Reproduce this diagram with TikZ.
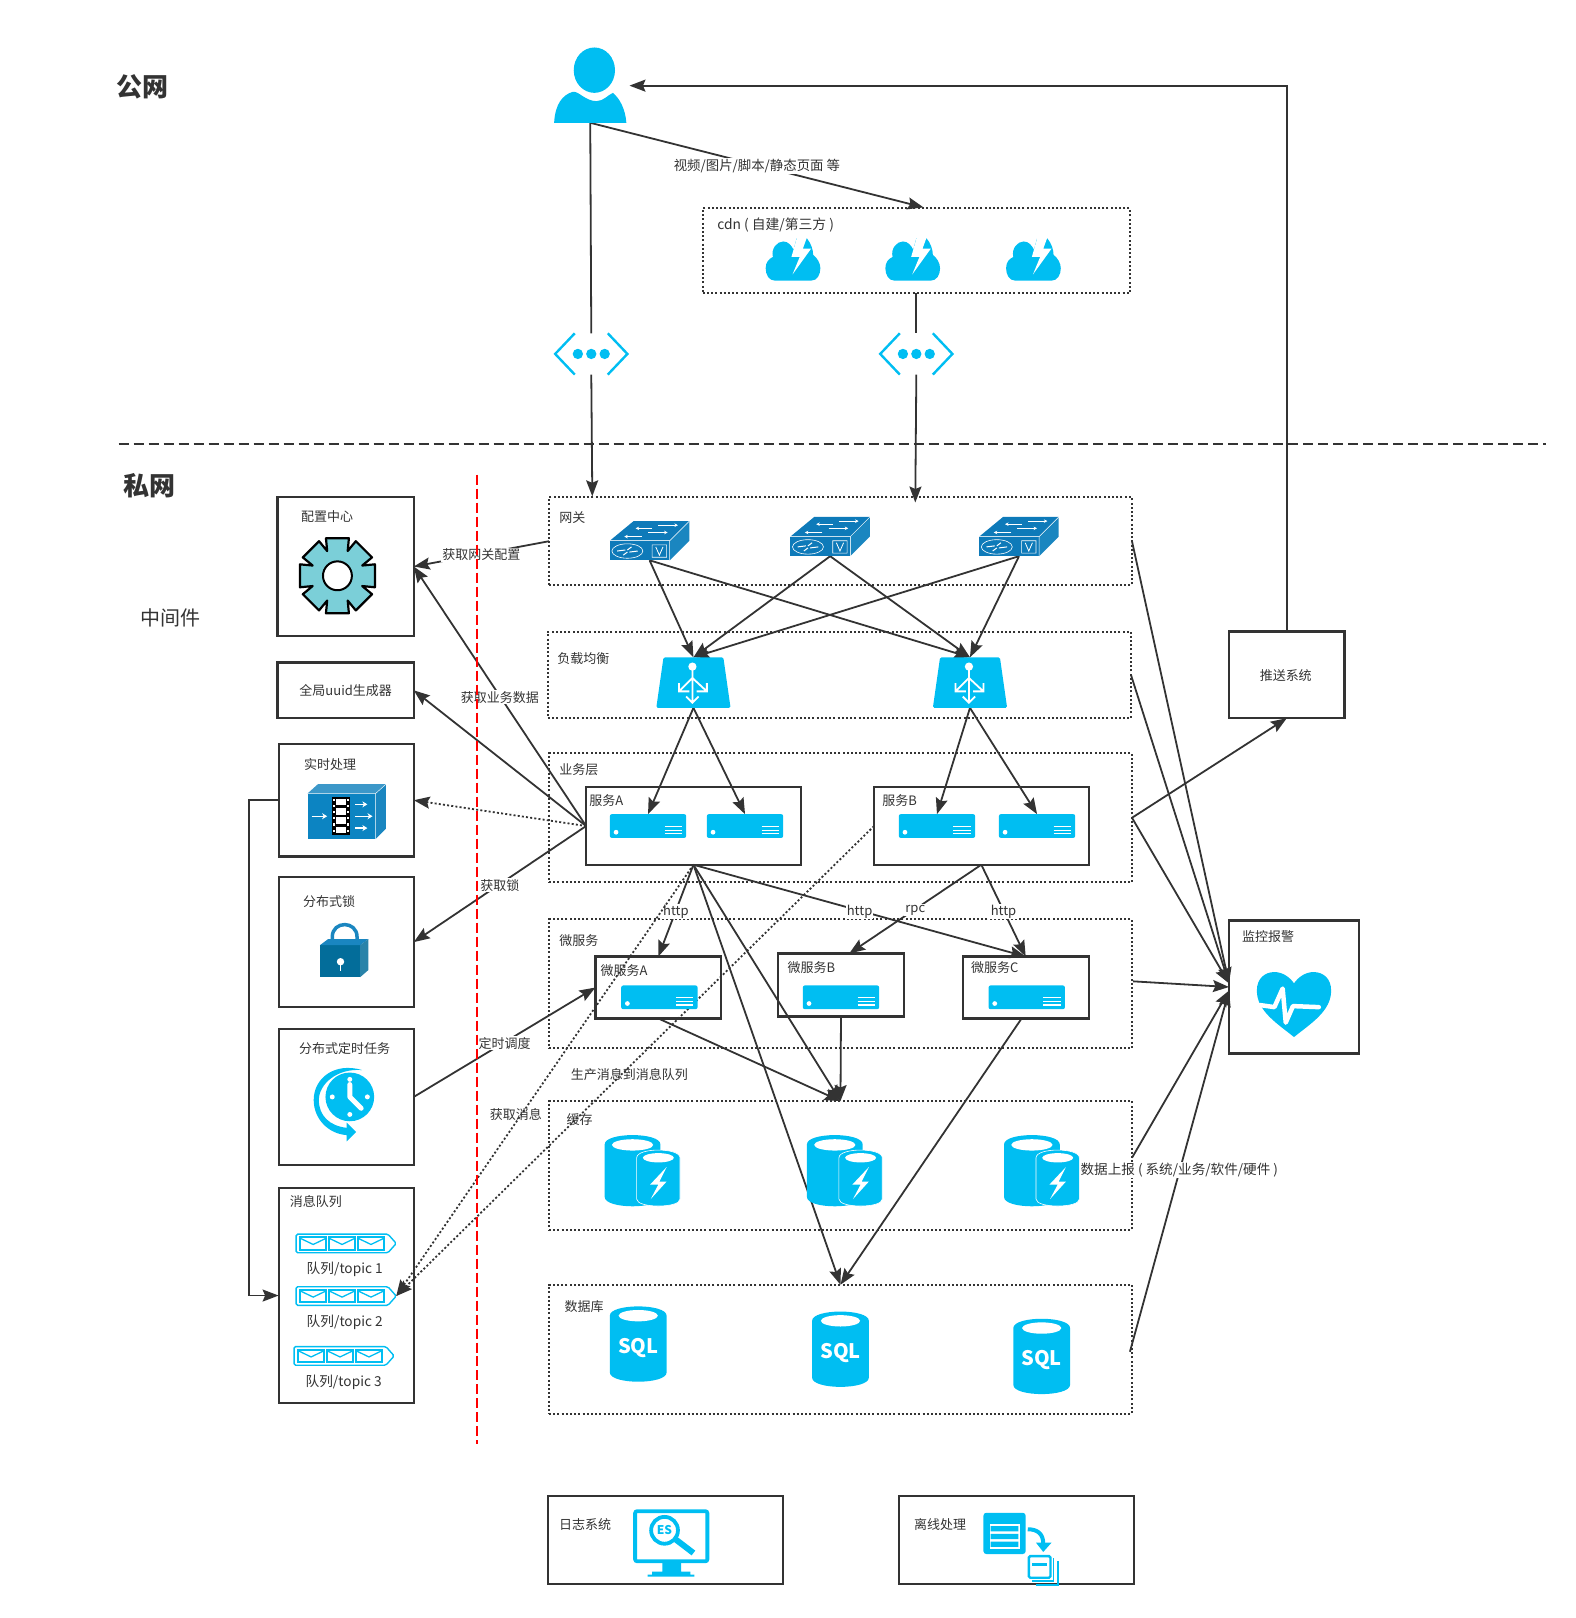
\documentclass[tikz,border=0pt]{standalone}
\usepackage{fontspec}
\setmainfont{Noto Sans CJK SC}
\usetikzlibrary{arrows.meta,fit}
\definecolor{ink}{HTML}{333333}
\definecolor{cy}{HTML}{00BEF2}
\definecolor{swb}{HTML}{0E7AB9}
\definecolor{swl}{HTML}{1A86C0}
\definecolor{lockb}{HTML}{036D9A}
\definecolor{gearc}{HTML}{7BCFD8}
\newcommand{\fs}[1]{\fontsize{#1}{#1}\selectfont}
\newcommand{\rbox}[6]{\node[#1,fit={(#3,#4)(#5,#6)}] (#2) {};}
\tikzset{
  x=1.0321pt,y=-1.0321pt,
  hook/.style={inner sep=0pt,outer sep=0pt},
  group/.style={hook,draw=ink,line width=2pt,dash pattern=on 2pt off 2.2pt},
  solidbox/.style={hook,draw=ink,line width=2.2pt},
  conn/.style={draw=ink,line width=1.8pt,-{Stealth[length=16pt,width=12pt,inset=2.5pt]}},
  plainconn/.style={draw=ink,line width=1.8pt},
  dotconn/.style={draw=ink,line width=1.8pt,dash pattern=on 2pt off 2.2pt,-{Stealth[length=16pt,width=12pt,inset=2.5pt]}},
  lab/.style={text=ink,font=\fs{13},inner sep=1pt,yshift=-1pt},
  labw/.style={lab,fill=white},
  user/.pic={
    \fill[cy] (39,22) ellipse [x radius=20,y radius=22];
    \fill[cy] (0,73) .. controls (1,55) and (8,46) .. (18,43) .. controls (24,42) and (30,52) .. (41,52) .. controls (48,52) and (52,46) .. (57,44) .. controls (64,50) and (69,60) .. (70,73) -- cycle;
  },
  gwicon/.pic={
    \draw[cy,line width=2.4pt] (20,0) -- (1,20) -- (20,40) (52,0) -- (71,20) -- (52,40);
    \foreach \d in {23,36,49}{\fill[cy] (\d,20) circle [radius=5];}
  },
  cdnicon/.pic={
    \fill[cy] (9,43) .. controls (3,43) and (0,37) .. (0,31) .. controls (0,25) and (3,22) .. (7,20) .. controls (5,12) and (11,5) .. (17,5) .. controls (22,5) and (25,9) .. (27,13) -- (30,2) -- (40,2) .. controls (44,7) and (46,13) .. (46,18) .. controls (50,21) and (53,26) .. (53,31) .. controls (53,37) and (50,43) .. (44,43) -- cycle;
    \fill[white] (31,-1) -- (25,20) -- (33,20) -- (26,37) -- (44,12) -- (36,12) -- (40,1) -- (32,-2) -- cycle;
  },
  swicon/.pic={
    \fill[swb] (0,19) rectangle (58,38);
    \fill[swb] (0,19) -- (23,0) -- (77,0) -- (58,19) -- cycle;
    \fill[swl] (58,19) -- (77,0) -- (77,19) -- (58,38) -- cycle;
    \draw[white,line width=.5pt] (0,19) -- (58,19) -- (77,0) (58,19) -- (58,38);
    \draw[white,line width=1.1pt,-{Stealth[length=3.5pt,width=3.5pt]}] (41,7) -- (25,7);
    \draw[white,line width=1.1pt,-{Stealth[length=3.5pt,width=3.5pt]}] (47,4) -- (66,4);
    \draw[white,line width=1.1pt,-{Stealth[length=3.5pt,width=3.5pt]}] (37,11) -- (56,11);
    \draw[white,line width=1.1pt,-{Stealth[length=3.5pt,width=3.5pt]}] (31,15) -- (14,15);
    \draw[white,line width=.6pt] (17,29) ellipse [x radius=15,y radius=7] (41,23) rectangle (55,35);
    \draw[white,line width=1pt] (7,29) -- (15,28) (19,30) -- (27,29) (13,33) -- (17,30) (17,28) -- (21,25);
    \draw[white,line width=.8pt] (44.5,25) -- (48,33) -- (51.5,25);
  },
  lbicon/.pic={
    \fill[cy,rounded corners=1.5pt] (7,0) -- (65,0) -- (72,49) -- (0,49) -- cycle;
    \fill[white] (35,9) circle [radius=4];
    \draw[white,line width=1.8pt] (35,9) -- (35,44) (35,20) -- (22,33) (35,20) -- (49,33) (22,25) -- (22,33) -- (32,33) (49,25) -- (49,33) -- (39,33) (29,38) -- (35,44) -- (41,38);
  },
  srv/.pic={
    \fill[cy,rounded corners=2pt] (0,0) rectangle (74,23);
    \fill[white] (6,17.5) circle [radius=2.3];
    \draw[white,line width=1.2pt] (53,12) -- (70,12) (53,15.5) -- (70,15.5) (53,19) -- (70,19);
  },
  cacheicon/.pic={
    \fill[cy] (0,9) .. controls (0,-3) and (54,-3) .. (54,9) -- (54,60) .. controls (54,72) and (0,72) .. (0,60) -- cycle;
    \fill[white] (27,9.5) ellipse [x radius=20,y radius=5.5];
    \draw[white,line width=.6pt,fill=cy] (31,22) .. controls (31,12) and (73,12) .. (73,22) -- (73,62) .. controls (73,71) and (31,71) .. (31,62) -- cycle;
    \fill[white] (52,22) ellipse [x radius=15,y radius=4.5];
    \fill[white] (60,31) -- (44,48) -- (52,48) -- (44.6,62) -- (60,45) -- (53,45) -- cycle;
  },
  sqlicon/.pic={
    \fill[cy] (0,9) .. controls (0,-3) and (55,-3) .. (55,9) -- (55,64) .. controls (55,76) and (0,76) .. (0,64) -- cycle;
    \fill[white] (27.5,9) ellipse [x radius=19,y radius=5.5];
    \node[text=white,font=\fs{20}\bfseries,inner sep=0pt,yshift=-1pt] (-t) at (27.5,39) {SQL};
  },
  gearicon/.pic={
    \draw[black,line width=2.2pt,fill=gearc,line join=round]
      (-17:38) \foreach \a in {0,45,...,315}{ -- (\a-17:38) -- (\a+17:38) -- (\a+22.5:26)} -- cycle;
    \draw[black,line width=2pt,fill=white] (0,0) circle [radius=14];
  },
  rticon/.pic={
    \fill[swb!85!cy] (0,9) rectangle (66,53);
    \fill[swl!85!white] (0,9) -- (10,0) -- (76,0) -- (66,9) -- cycle;
    \fill[swl] (66,9) -- (76,0) -- (76,43) -- (66,53) -- cycle;
    \draw[white,line width=.4pt] (0,9) -- (66,9) -- (76,0) (66,9) -- (66,53);
    \fill[black] (24,12) rectangle (41,49);
    \foreach \f in {14,23,32,41}{\fill[white] (28,\f) rectangle (37,\f+6.5);}
    \foreach \f in {14,20,26,32,38,44}{\fill[white] (25,\f) rectangle (26.5,\f+2);\fill[white] (38.5,\f) rectangle (40,\f+2);}
    \draw[white,line width=1.4pt,-{Stealth[length=5pt,width=6pt]}] (4,31) -- (19,31);
    \draw[white,line width=1.4pt,-{Stealth[length=5pt,width=6pt]}] (46,19.5) -- (58,19.5);
    \draw[white,line width=1.4pt,-{Stealth[length=5pt,width=6pt]}] (46,31) -- (63,31);
    \draw[white,line width=1.4pt,-{Stealth[length=5pt,width=6pt]}] (46,42.5) -- (58,42.5);
  },
  lockicon/.pic={
    \draw[swl,line width=3.5pt] (12,21) -- (12,13) .. controls (12,-3) and (36,-3) .. (36,13) -- (36,21);
    \fill[lockb] (0,21) rectangle (39,52);
    \fill[swl] (0,21) -- (8,15) -- (47,15) -- (39,21) -- cycle;
    \fill[lockb!85!white] (39,21) -- (47,15) -- (47,45) -- (39,52) -- cycle;
    \fill[white] (20,37) circle [radius=3.6];
    \draw[white,line width=1.8pt] (20,37) -- (20,46);
  },
  clockicon/.pic={
    \fill[cy] (35,30) circle [radius=23.6];
    \foreach \p in {(35,13),(52,30),(35,47),(18,30)}{\fill[white] \p circle [radius=2.4];}
    \draw[white,line width=5pt,line cap=round,line join=round] (35,18) -- (35,30) -- (46,41);
    \fill[cy] (47,4) .. controls (20,-4) and (0,12) .. (0,33) .. controls (0,52) and (15,66) .. (32,67) -- (32,73) -- (41,64) -- (32,55) -- (32,60) .. controls (15,58) and (5,48) .. (5,33) .. controls (5,18) and (22,2) .. (47,4) -- cycle;
  },
  qicon/.pic={
    \draw[cy,line width=1.4pt,rounded corners=1.5pt] (1,0) -- (90,0) -- (98,9) -- (90,18) -- (1,18) -- cycle;
    \foreach \e in {5,33,61}{
      \draw[cy,line width=2pt] (\e,3) rectangle (\e+25,15);
      \draw[cy,line width=1.3pt] (\e,4) -- (\e+12.5,10) -- (\e+25,4);
    }
  },
  hearticon/.pic={
    \fill[cy] (36,63) .. controls (20,50) and (0,38) .. (0,18) .. controls (0,6) and (8,0) .. (17,0) .. controls (25,0) and (32,5) .. (36,11) .. controls (40,5) and (47,0) .. (55,0) .. controls (64,0) and (72,6) .. (72,18) .. controls (72,38) and (52,50) .. (36,63) -- cycle;
    \draw[white,line width=4.5pt,line cap=round,line join=round] (3,32) -- (17,34) -- (25,16) -- (28,49) -- (35,33) -- (60,34);
  },
  esicon/.pic={
    \draw[cy,line width=3.8pt,rounded corners=2pt] (1.5,1.5) rectangle (71.5,50);
    \fill[cy] (28,51) rectangle (46,60) (18,60) rectangle (55,63) (13.5,63) rectangle (59,65);
    \draw[cy,line width=3.8pt] (30,20) circle [radius=13];
    \draw[cy,line width=6pt] (41,29) -- (58,42);
    \node[text=cy,font=\fs{12}\bfseries,inner sep=0pt] (-t) at (30,20) {ES};
  },
  officon/.pic={
    \fill[cy,rounded corners=3pt] (0,0) rectangle (41,40);
    \fill[white] (6,11) rectangle (35,35);
    \fill[cy] (7,13) rectangle (34,18) (7,20.5) rectangle (34,25.5) (7,28) rectangle (34,33);
    \draw[cy,line width=4pt] (43,16) .. controls (52,16) and (58,20) .. (58,30);
    \fill[cy] (51,29) -- (66,29) -- (58,38) -- cycle;
    \draw[cy,line width=2.4pt,rounded corners=1.5pt] (44,42) rectangle (65,63);
    \fill[cy] (47,49) rectangle (62,52);
    \draw[cy,line width=1.6pt] (68,44) -- (68,66) -- (47,66) (72,47) -- (72,70) -- (51,70);
  },
}
\begin{document}
\begin{tikzpicture}
\useasboundingbox (0,0) rectangle (1527,1568);

% group boxes
\rbox{group}{cdn}{681}{202}{1095}{284}
\rbox{group}{gw}{532}{482}{1097}{567}
\rbox{group}{lbg}{531}{612}{1096}{696}
\rbox{group}{biz}{532}{730}{1097}{855}
\rbox{group}{micro}{532}{891}{1097}{1016}
\rbox{group}{cache}{532}{1067}{1097}{1192}
\rbox{group}{dbg}{532}{1245}{1097}{1370}

% solid boxes
\rbox{solidbox}{svcA}{568}{763}{776}{838}
\rbox{solidbox}{svcB}{847}{763}{1055}{838}
\rbox{solidbox}{mA}{577}{927}{699}{987}
\rbox{solidbox}{mB}{754}{924}{876}{985}
\rbox{solidbox}{mC}{933}{927}{1055}{987}
\rbox{solidbox}{cfg}{269}{482}{401}{616}
\rbox{solidbox}{uuid}{269}{642}{401}{696}
\rbox{solidbox}{rt}{270}{721}{401}{830}
\rbox{solidbox}{lockb}{270}{850}{401}{976}
\rbox{solidbox}{tm}{270}{997}{401}{1129}
\rbox{solidbox}{mq}{270}{1151}{401}{1360}
\rbox{solidbox}{push}{1191}{612}{1303}{696}
\rbox{solidbox}{alarm}{1191}{892}{1317}{1021}
\rbox{solidbox}{logs}{531}{1450}{759}{1535}
\rbox{solidbox}{off}{871}{1450}{1099}{1535}

% icon hooks
\rbox{hook}{user}{537}{46}{607}{119}
\rbox{hook}{ing1}{537}{323}{609}{363}
\rbox{hook}{ing2}{852}{323}{924}{363}
\rbox{hook}{sw1}{591}{505}{668}{543}
\rbox{hook}{sw2}{766}{501}{843}{539}
\rbox{hook}{sw3}{949}{501}{1026}{539}
\rbox{hook}{lb1}{636}{637}{708}{686}
\rbox{hook}{lb2}{904}{637}{976}{686}
\rbox{hook}{s1}{591}{789}{665}{812}
\rbox{hook}{s2}{685}{789}{759}{812}
\rbox{hook}{s3}{871}{789}{945}{812}
\rbox{hook}{s4}{968}{789}{1042}{812}
\rbox{hook}{q2}{286}{1247}{384}{1265}

\coordinate (userin) at (610,83);
\coordinate (pushturn) at (push.north |- userin);
\coordinate (gwin1) at (574,481);
\coordinate (gwin2) at (887,487);
\coordinate (cdnin) at (895,201);
\coordinate (mBin) at (823,924);
\coordinate (mCout) at (990,987);
\coordinate (microout) at (1098,951);
\coordinate (rtturn1) at (241,775.5);
\coordinate (rtturn2) at (241,1255.5);
\coordinate (cacheout) at (1097,1122);
\coordinate (dbout) at (1095,1310);
\coordinate (alarmtop) at (1191,953);
\coordinate (alarmlow) at (1191,960);

% connectors
\path[conn] (user.south) -- node[labw,pos=.5,font=\fs{13.4}] (t0) {视频/图片/脚本/静态页面 等} (cdnin);
\path[plainconn] (user.south) -- (ing1.north);
\path[conn] (ing1.south) -- (gwin1);
\path[plainconn] (cdn.south) -- (ing2.north);
\path[conn] (ing2.south) -- (gwin2);
\path[conn] (push.north) -- (pushturn) -- (userin);

\foreach \f in {sw1,sw2,sw3}{\foreach \t in {lb1,lb2}{\path[conn] (\f.south) -- (\t.north);}}
\path[conn] (lb1.south) -- (s1.north);
\path[conn] (lb1.south) -- (s2.north);
\path[conn] (lb2.south) -- (s3.north);
\path[conn] (lb2.south) -- (s4.north);

\path[conn] (svcA.south) -- node[labw,pos=.5] (t1) {http} (mA.north);
\path[conn] (svcA.south) -- node[labw,pos=.5] (t2) {http} (mC.north);
\path[conn] (svcB.south) -- node[labw,pos=.5] (t3) {rpc} (mBin);
\path[conn] (svcB.south) -- node[labw,pos=.5] (t4) {http} (mC.north);
\path[conn] (svcA.south) -- (dbg.north);
\path[conn] (svcA.south) -- (cache.north);
\path[conn] (mA.south) -- (cache.north);
\path[conn] (mB.south) -- (cache.north);
\path[conn] (mCout) -- (dbg.north);

\path[conn] (gw.west) -- node[labw,pos=.5] (t5) {获取网关配置} (cfg.east);
\path[conn] (svcA.west) -- node[labw,pos=.5] (t6) {获取业务数据} (cfg.east);
\path[conn] (svcA.west) -- (uuid.east);
\path[dotconn] (svcA.west) -- (rt.east);
\path[conn] (svcA.west) -- node[labw,pos=.5] (t7) {获取锁} (lockb.east);
\path[conn] (tm.east) -- node[labw,pos=.5] (t8) {定时调度} (mA.west);
\path[conn] (rt.west) -- (rtturn1) -- (rtturn2) -- (mq.west);
\path[dotconn] (svcA.south) -- (q2.east);
\path[dotconn] (svcB.west) -- (q2.east);

\path[conn] (biz.east) -- (push.south);
\path[conn] (gw.east) -- (alarmtop);
\path[conn] (lbg.east) -- (alarmtop);
\path[conn] (biz.east) -- (alarmtop);
\path[conn] (microout) -- (alarm.west);
\path[conn] (cacheout) -- (alarmlow);
\path[conn] (dbout) -- (alarmlow);

% icons
\pic at (537,46) {user};
\pic at (537,323) {gwicon};
\pic at (852,323) {gwicon};
\pic at (742,229) {cdnicon};
\pic at (858,229) {cdnicon};
\pic at (975,229) {cdnicon};
\pic at (591,505) {swicon};
\pic at (766,501) {swicon};
\pic at (949,501) {swicon};
\pic at (636,637) {lbicon};
\pic at (904,637) {lbicon};
\pic at (591,789) {srv};
\pic at (685,789) {srv};
\pic at (871,789) {srv};
\pic at (968,789) {srv};
\pic at (602,955) {srv};
\pic at (778,955) {srv};
\pic at (958,955) {srv};
\pic at (586,1100) {cacheicon};
\pic at (782,1100) {cacheicon};
\pic at (973,1100) {cacheicon};
\pic (sql1) at (591,1266) {sqlicon};
\pic (sql2) at (787,1271) {sqlicon};
\pic (sql3) at (982,1278) {sqlicon};
\pic at (327,558) {gearicon};
\pic at (298,760) {rticon};
\pic at (310,895) {lockicon};
\pic at (304,1033) {clockicon};
\pic at (286,1196) {qicon};
\pic at (286,1247) {qicon};
\pic at (284,1305) {qicon};
\pic at (1218,942) {hearticon};
\pic (es) at (614,1463) {esicon};
\pic at (953,1466) {officon};

% labels
\node[text=ink,font=\fs{26}\bfseries,inner sep=0pt] (pub) at (138,84) {公网};
\node[text=ink,font=\fs{26}\bfseries,inner sep=0pt] (pri) at (145,471) {私网};
\node[text=ink,font=\fs{20},inner sep=0pt] (mid) at (165,599) {中间件};
\node[lab,anchor=west,font=\fs{13.8}] (l1) at (694,217) {cdn ( 自建/第三方 )};
\node[lab,anchor=west] (l2) at (541,501) {网关};
\node[lab,anchor=west] (l3) at (539,637) {负载均衡};
\node[lab,anchor=west] (l4) at (541,745) {业务层};
\node[lab,anchor=west] (l5) at (570,775) {服务A};
\node[lab,anchor=west] (l6) at (854,775) {服务B};
\node[lab,anchor=west] (l7) at (541,911) {微服务};
\node[lab,anchor=west] (l8) at (581,940) {微服务A};
\node[lab,anchor=west] (l9) at (762,937) {微服务B};
\node[lab,anchor=west] (l10) at (940,937) {微服务C};
\node[lab,anchor=west] (l11) at (548,1084) {缓存};
\node[lab,anchor=west] (l12) at (546,1265) {数据库};
\node[lab] (l13) at (317,500) {配置中心};
\node[lab] (l14) at (335,668) {全局uuid生成器};
\node[lab] (l15) at (320,740) {实时处理};
\node[lab] (l16) at (319,873) {分布式锁};
\node[lab] (l17) at (334,1015) {分布式定时任务};
\node[lab] (l18) at (306,1163) {消息队列};
\node[lab,font=\fs{13.7}] (l19) at (334,1229) {队列/topic 1};
\node[lab,font=\fs{13.7}] (l20) at (334,1280) {队列/topic 2};
\node[lab,font=\fs{13.7}] (l21) at (333,1339) {队列/topic 3};
\node[lab] (l22) at (1246,654) {推送系统};
\node[lab] (l23) at (1229,907) {监控报警};
\node[lab] (l24) at (567,1476) {日志系统};
\node[lab] (l25) at (911,1476) {离线处理};
\node[lab] (l26) at (610,1040) {生产消息到消息队列};
\node[lab] (l27) at (500,1079) {获取消息};
\node[labw,anchor=west,font=\fs{13.6}] (l28) at (1046,1133) {数据上报 ( 系统/业务/软件/硬件 )};

% separators
\coordinate (sepL) at (115,430);
\coordinate (sepR) at (1498,430);
\coordinate (redT) at (462,460);
\coordinate (redB) at (462,1399);
\draw[ink,line width=1.8pt,dash pattern=on 10pt off 5pt] (sepL) -- (sepR);
\draw[red,line width=1.8pt,dash pattern=on 10pt off 4pt] (redT) -- (redB);
\end{tikzpicture}
\end{document}
